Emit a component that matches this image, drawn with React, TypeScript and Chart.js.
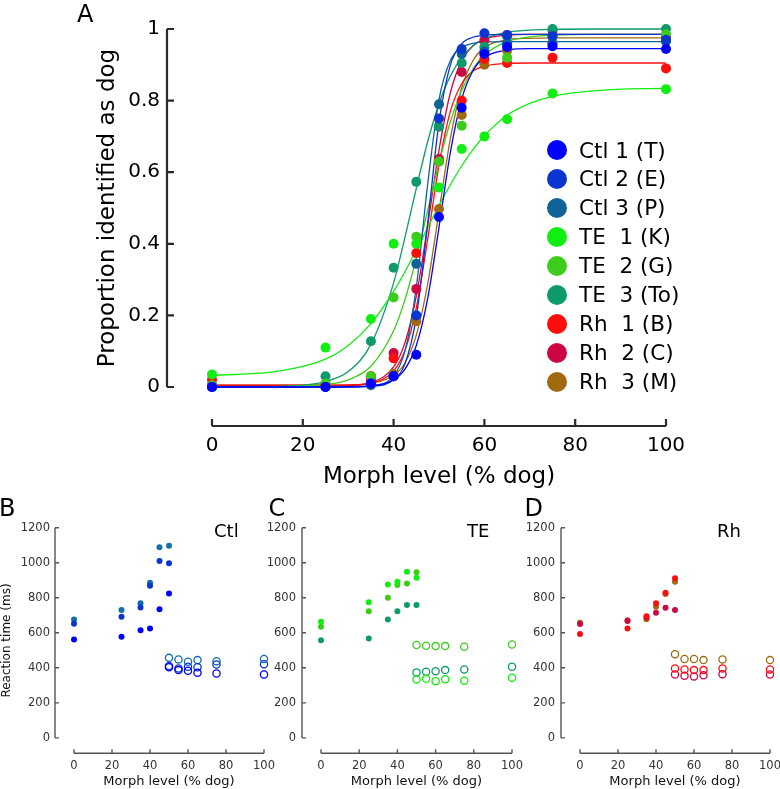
import React, { useEffect, useRef } from 'react';
import { Chart, registerables } from 'chart.js';

Chart.register(...registerables);

const FONT = "'DejaVu Sans', sans-serif";

// ---------- Panel A : psychometric data ----------
const morphLevels = [0, 25, 35, 40, 45, 50, 55, 60, 65, 75, 100];
const subjectLabels = ['Ctl 1 (T)', 'Ctl 2 (E)', 'Ctl 3 (P)', 'TE  1 (K)', 'TE  2 (G)', 'TE  3 (To)', 'Rh  1 (B)', 'Rh  2 (C)', 'Rh  3 (M)'];
const subjectColors = ['#0000ff', '#0b35cf', '#0f6399', '#11ee11', '#3dcc1a', '#0e9a6a', '#ff0d0d', '#cc0844', '#a06a10'];

const propCtl1 = [0.0, 0.0, 0.01, 0.03, 0.09, 0.475, 0.78, 0.93, 0.95, 0.952, 0.944];
const propCtl2 = [0.0, 0.0, 0.01, 0.03, 0.2, 0.75, 0.944, 0.988, 0.983, 0.98, 0.97];
const propCtl3 = [0.0, 0.0, 0.005, 0.03, 0.344, 0.79, 0.93, 0.937, 0.96, 0.96, 0.965];
const propTE1 = [0.035, 0.11, 0.19, 0.4, 0.4, 0.557, 0.665, 0.7, 0.748, 0.82, 0.832];
const propTE2 = [0.005, 0.01, 0.03, 0.25, 0.42, 0.63, 0.73, 0.93, 0.92, 0.978, 0.985];
const propTE3 = [0.0, 0.03, 0.128, 0.333, 0.573, 0.727, 0.905, 0.95, 0.98, 1.0, 1.0];
const propRh1 = [0.02, 0.005, 0.03, 0.08, 0.374, 0.63, 0.8, 0.916, 0.905, 0.92, 0.89];
const propRh2 = [0.005, 0.005, 0.02, 0.095, 0.274, 0.637, 0.88, 0.969, 0.983, 0.995, 0.98];
const propRh3 = [0.005, 0.01, 0.03, 0.036, 0.184, 0.497, 0.76, 0.9, 0.94, 0.96, 0.98];

// fitted curves at these morph levels
const fitX = [0, 15, 25, 30, 35, 40, 42.5, 45, 47.5, 50, 52.5, 55, 57.5, 60, 65, 70, 75, 85, 100];
const fitCtl1 = [0, 0, 0, 0.001, 0.003, 0.02, 0.05, 0.116, 0.247, 0.446, 0.655, 0.804, 0.884, 0.92, 0.941, 0.945, 0.945, 0.945, 0.945];
const fitCtl2 = [0, 0, 0, 0, 0.002, 0.02, 0.065, 0.195, 0.456, 0.739, 0.899, 0.959, 0.977, 0.983, 0.985, 0.985, 0.985, 0.985, 0.985];
const fitCtl3 = [0, 0, 0, 0, 0.003, 0.031, 0.101, 0.279, 0.566, 0.803, 0.912, 0.949, 0.96, 0.964, 0.965, 0.965, 0.965, 0.965, 0.965];
const fitTE1 = [0.032, 0.045, 0.078, 0.116, 0.177, 0.267, 0.322, 0.383, 0.445, 0.507, 0.565, 0.618, 0.664, 0.702, 0.759, 0.792, 0.812, 0.828, 0.835];
const fitTE2 = [0, 0.001, 0.007, 0.02, 0.058, 0.157, 0.244, 0.36, 0.493, 0.626, 0.741, 0.828, 0.889, 0.928, 0.965, 0.978, 0.983, 0.985, 0.985];
const fitTE3 = [0, 0.002, 0.015, 0.043, 0.119, 0.291, 0.418, 0.555, 0.685, 0.791, 0.869, 0.92, 0.953, 0.972, 0.991, 0.997, 0.999, 1.0, 1.0];
const fitRh1 = [0.005, 0.005, 0.005, 0.006, 0.011, 0.045, 0.102, 0.221, 0.412, 0.62, 0.77, 0.847, 0.883, 0.896, 0.904, 0.905, 0.905, 0.905, 0.905];
const fitRh2 = [0.003, 0.003, 0.003, 0.004, 0.012, 0.056, 0.124, 0.254, 0.451, 0.662, 0.822, 0.911, 0.953, 0.972, 0.983, 0.985, 0.985, 0.985, 0.985];
const fitRh3 = [0.005, 0.005, 0.005, 0.005, 0.01, 0.032, 0.067, 0.145, 0.287, 0.49, 0.694, 0.836, 0.912, 0.948, 0.97, 0.974, 0.975, 0.975, 0.975];

const propAll = [propCtl1, propCtl2, propCtl3, propTE1, propTE2, propTE3, propRh1, propRh2, propRh3];
const fitAll = [fitCtl1, fitCtl2, fitCtl3, fitTE1, fitTE2, fitTE3, fitRh1, fitRh2, fitRh3];

const xTicksA = [0, 20, 40, 60, 80, 100];
const yTicksA = [0, 0.2, 0.4, 0.6, 0.8, 1];

// ---------- Panels B-D : reaction times (ms) ----------
const rtCatX = [0, 25, 35, 40, 45, 50];
const rtDogX = [50, 55, 60, 65, 75, 100];

const rtCtl1Cat = [562, 577, 614, 625, 734, 825];
const rtCtl1Dog = [403, 387, 383, 372, 368, 362];
const rtCtl2Cat = [651, 691, 744, 869, 1010, 997];
const rtCtl2Dog = [410, 396, 406, 403, 419, 421];
const rtCtl3Cat = [676, 730, 768, 886, 1088, 1097];
const rtCtl3Dog = [457, 448, 435, 444, 438, 450];

const rtTE1Cat = [663, 775, 876, 891, 949, 914];
const rtTE1Dog = [334, 337, 324, 335, 326, 343];
const rtTE2Cat = [634, 723, 800, 873, 882, 945];
const rtTE2Dog = [530, 526, 524, 524, 520, 533];
const rtTE3Cat = [557, 567, 676, 723, 758, 758];
const rtTE3Dog = [374, 378, 381, 387, 391, 406];

const rtRh1Cat = [593, 625, 695, 768, 829, 911];
const rtRh1Dog = [396, 391, 387, 387, 396, 391];
const rtRh2Cat = [650, 668, 688, 714, 743, 730];
const rtRh2Dog = [362, 355, 351, 357, 364, 362];
const rtRh3Cat = [657, 672, 678, 749, 822, 892];
const rtRh3Dog = [478, 450, 450, 444, 448, 444];

const xTicksRT = [0, 20, 40, 60, 80, 100];
const yTicksRT = [0, 200, 400, 600, 800, 1000, 1200];

// ---------- plugin: detached (offset) axis lines with inward ticks ----------
const offsetAxes = {
  id: 'offsetAxes',
  afterDraw(chart: any, _args: any, opts: any) {
    const { ctx, chartArea, scales } = chart;
    const xs = scales.x;
    const ys = scales.y;
    const xt = xs.ticks.map((t: any) => t.value);
    const yt = ys.ticks.map((t: any) => t.value);
    const ax = chartArea.left - opts.yGap;
    const ay = chartArea.bottom + opts.xGap;
    ctx.save();
    ctx.strokeStyle = opts.color;
    ctx.lineWidth = opts.width;
    ctx.beginPath();
    ctx.moveTo(ax, ys.getPixelForValue(yt[0]));
    ctx.lineTo(ax, ys.getPixelForValue(yt[yt.length - 1]));
    yt.forEach((v: number) => {
      const p = ys.getPixelForValue(v);
      ctx.moveTo(ax, p);
      ctx.lineTo(ax + opts.tick, p);
    });
    ctx.moveTo(xs.getPixelForValue(xt[0]), ay);
    ctx.lineTo(xs.getPixelForValue(xt[xt.length - 1]), ay);
    xt.forEach((v: number) => {
      const p = xs.getPixelForValue(v);
      ctx.moveTo(p, ay);
      ctx.lineTo(p, ay - opts.tick);
    });
    ctx.stroke();
    ctx.restore();
  },
};

function pts(xs: number[], ys: number[]) {
  return xs.map((x, i) => ({ x, y: ys[i] }));
}

const plainLabel = (v: any) => String(v);

function fixSize(dim: 'width' | 'height', size: number) {
  return (s: any) => {
    s[dim] = size;
    s.paddingTop = 0;
    s.paddingBottom = 0;
    s.paddingLeft = 0;
    s.paddingRight = 0;
  };
}

function makeConfigA(): any {
  const datasets: any[] = [];
  subjectColors.forEach((c, i) => {
    datasets.push({
      data: pts(fitX, fitAll[i]),
      showLine: true,
      borderColor: c,
      borderWidth: 1.3,
      pointRadius: 0,
      cubicInterpolationMode: 'monotone',
      fill: false,
      clip: false,
      order: 2,
    });
  });
  subjectColors.forEach((c, i) => {
    datasets.push({
      data: pts(morphLevels, propAll[i]),
      showLine: false,
      backgroundColor: c,
      borderColor: c,
      borderWidth: 0,
      pointRadius: 5,
      clip: false,
      order: 1,
    });
  });
  return {
    type: 'scatter',
    data: { datasets },
    options: {
      responsive: false,
      animation: false,
      events: [],
      layout: { autoPadding: false, padding: { left: 90, top: 29, right: 114, bottom: 5 } },
      plugins: {
        legend: { display: false },
        tooltip: { enabled: false },
        offsetAxes: { yGap: 45, xGap: 39, tick: 7, color: '#2b2b2b', width: 2.2 },
      },
      scales: {
        x: {
          type: 'linear',
          min: 0,
          max: 100,
          afterBuildTicks: (s: any) => { s.ticks = xTicksA.map((v) => ({ value: v })); },
          afterFit: fixSize('height', 108),
          grid: { display: false, drawTicks: false },
          border: { display: false },
          ticks: { font: { family: FONT, size: 20 }, color: '#000', padding: 47, maxRotation: 0, autoSkip: false, callback: plainLabel },
          title: { display: true, text: 'Morph level (% dog)', color: '#000', font: { family: FONT, size: 23 }, padding: { top: 4, bottom: 4 } },
        },
        y: {
          type: 'linear',
          min: 0,
          max: 1,
          afterBuildTicks: (s: any) => { s.ticks = yTicksA.map((v) => ({ value: v })); },
          afterFit: fixSize('width', 122),
          grid: { display: false, drawTicks: false },
          border: { display: false },
          ticks: { font: { family: FONT, size: 20 }, color: '#000', padding: 52, autoSkip: false, callback: plainLabel },
          title: { display: true, text: 'Proportion identified as dog', color: '#000', font: { family: FONT, size: 23 }, padding: { top: 4, bottom: 4 } },
        },
      },
    },
    plugins: [offsetAxes],
  };
}

type RTGroup = { color: string; cat: number[]; dog: number[] };

function makeConfigRT(groups: RTGroup[], yWidth: number, yPad: number, showYTitle: boolean, padRight: number): any {
  const datasets: any[] = [];
  groups.forEach((g) => {
    datasets.push({
      data: pts(rtCatX, g.cat),
      showLine: false,
      backgroundColor: g.color,
      borderColor: g.color,
      borderWidth: 0,
      pointRadius: 3,
      clip: false,
    });
    datasets.push({
      data: pts(rtDogX, g.dog),
      showLine: false,
      backgroundColor: 'rgba(0,0,0,0)',
      borderColor: g.color,
      borderWidth: 1.3,
      pointRadius: 3.6,
      clip: false,
    });
  });
  return {
    type: 'scatter',
    data: { datasets },
    options: {
      responsive: false,
      animation: false,
      events: [],
      layout: { autoPadding: false, padding: { left: 0, top: 27.7, right: padRight, bottom: 0 } },
      plugins: {
        legend: { display: false },
        tooltip: { enabled: false },
        offsetAxes: { yGap: 19, xGap: 0, tick: 4, color: '#555', width: 1.4 },
      },
      scales: {
        x: {
          type: 'linear',
          min: 0,
          max: 100,
          afterBuildTicks: (s: any) => { s.ticks = xTicksRT.map((v) => ({ value: v })); },
          afterFit: fixSize('height', 35.7),
          grid: { display: false, drawTicks: false },
          border: { display: false },
          ticks: { font: { family: FONT, size: 11.5 }, color: '#333', padding: 6, maxRotation: 0, autoSkip: false, callback: plainLabel },
          title: { display: true, text: 'Morph level (% dog)', color: '#111', font: { family: FONT, size: 13 }, padding: { top: 0, bottom: 0 } },
        },
        y: {
          type: 'linear',
          min: -88,
          max: 1200,
          afterBuildTicks: (s: any) => { s.ticks = yTicksRT.map((v) => ({ value: v })); },
          afterFit: fixSize('width', yWidth),
          grid: { display: false, drawTicks: false },
          border: { display: false },
          ticks: { font: { family: FONT, size: 11.5 }, color: '#333', padding: yPad, autoSkip: false, callback: plainLabel },
          title: { display: showYTitle, text: 'Reaction time (ms)', color: '#111', font: { family: FONT, size: 12 }, padding: { top: 0, bottom: 0 } },
        },
      },
    },
    plugins: [offsetAxes],
  };
}

function ChartBox(props: { left: number; top: number; width: number; height: number; make: () => any }) {
  const ref = useRef<HTMLCanvasElement>(null);
  useEffect(() => {
    const chart = new Chart(ref.current as HTMLCanvasElement, props.make());
    return () => chart.destroy();
  }, []);
  return (
    <canvas
      ref={ref}
      width={props.width}
      height={props.height}
      style={{ position: 'absolute', left: props.left, top: props.top, width: props.width, height: props.height }}
    />
  );
}

function Label(props: { text: string; left: number; top: number; size: number }) {
  return (
    <div style={{ position: 'absolute', left: props.left, top: props.top, fontSize: props.size, lineHeight: 1, fontFamily: FONT, color: '#000', whiteSpace: 'pre' }}>
      {props.text}
    </div>
  );
}

const groupsCtl: RTGroup[] = [
  { color: subjectColors[0], cat: rtCtl1Cat, dog: rtCtl1Dog },
  { color: subjectColors[1], cat: rtCtl2Cat, dog: rtCtl2Dog },
  { color: '#136fa6', cat: rtCtl3Cat, dog: rtCtl3Dog },
];
const groupsTE: RTGroup[] = [
  { color: subjectColors[3], cat: rtTE1Cat, dog: rtTE1Dog },
  { color: subjectColors[4], cat: rtTE2Cat, dog: rtTE2Dog },
  { color: subjectColors[5], cat: rtTE3Cat, dog: rtTE3Dog },
];
const groupsRh: RTGroup[] = [
  { color: subjectColors[6], cat: rtRh1Cat, dog: rtRh1Dog },
  { color: subjectColors[7], cat: rtRh2Cat, dog: rtRh2Dog },
  { color: subjectColors[8], cat: rtRh3Cat, dog: rtRh3Dog },
];

export default function App() {
  return (
    <div style={{ position: 'absolute', left: 0, top: 0, width: 780, height: 789, overflow: 'hidden', background: '#fff', fontFamily: FONT }}>
      <ChartBox left={0} top={0} width={780} height={500} make={makeConfigA} />
      <ChartBox left={0} top={500} width={275} height={289} make={() => makeConfigRT(groupsCtl, 74, 24, true, 11)} />
      <ChartBox left={260} top={500} width={275} height={289} make={() => makeConfigRT(groupsTE, 61, 25, false, 23)} />
      <ChartBox left={520} top={500} width={262} height={289} make={() => makeConfigRT(groupsRh, 60, 25, false, 12)} />

      {subjectLabels.map((lab, i) => (
        <div
          key={lab}
          style={{ position: 'absolute', left: 547, top: 150 + 28.96 * i - 14, height: 28, display: 'flex', alignItems: 'center', fontFamily: FONT, fontSize: 21.5, color: '#000', whiteSpace: 'pre' }}
        >
          <span style={{ display: 'inline-block', width: 20, height: 20, borderRadius: 10, background: subjectColors[i], marginRight: 12 }} />
          <span>{lab}</span>
        </div>
      ))}

      <Label text="A" left={77} top={1.7} size={24} />
      <Label text="B" left={-1} top={495.7} size={24} />
      <Label text="C" left={268.5} top={495.7} size={24} />
      <Label text="D" left={524.6} top={495.7} size={24} />
      <Label text="Ctl" left={214} top={521.8} size={18} />
      <Label text="TE" left={467} top={521.8} size={18} />
      <Label text="Rh" left={717} top={521.8} size={18} />
    </div>
  );
}
